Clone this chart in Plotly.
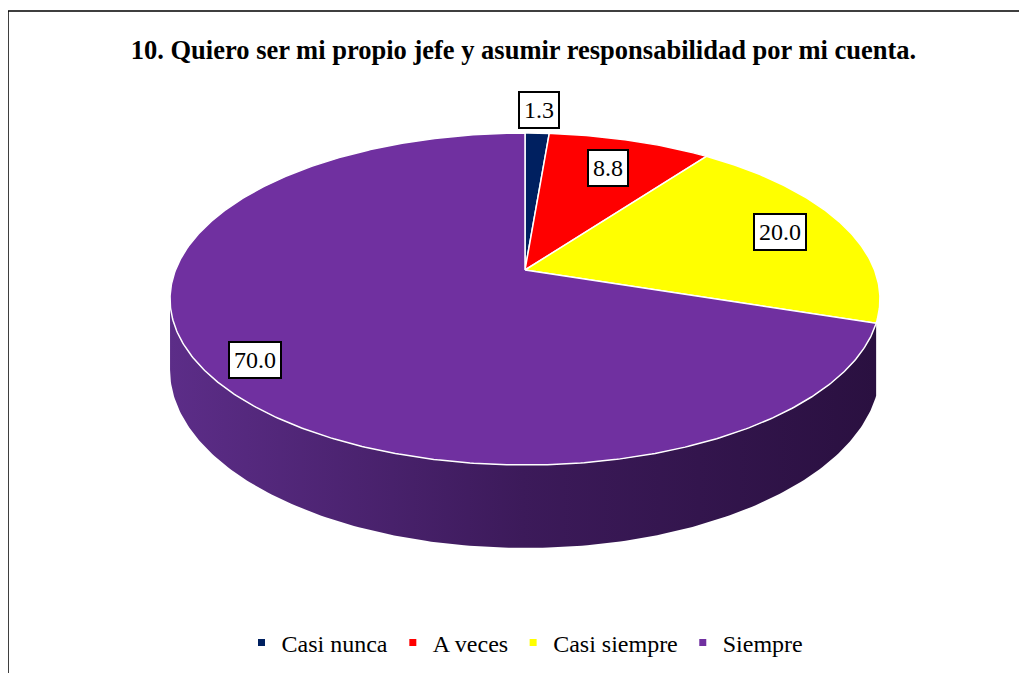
import numpy as np
import plotly.graph_objects as go

title = "10. Quiero ser mi propio jefe y asumir responsabilidad por mi cuenta."
categories = ["Casi nunca", "A veces", "Casi siempre", "Siempre"]
values = [1.3, 8.8, 20.0, 70.0]
labels = ["1.3", "8.8", "20.0", "70.0"]
colors = ["#002060", "#FF0000", "#FFFF00", "#7030A0"]
label_radius = [1.2, 0.76, 0.8, 0.87]

# page has an 8px body margin; figure coordinates are shifted accordingly
OFF = 8
W, H = 1027 - OFF, 673 - OFF
# perspective pie geometry (pixel space, page coords minus offset)
CX, CY = 525.0 - OFF, 270.0 - OFF
A, B, K = 160.9, 349.5, 0.1747
DEPTH = 68.5
FONT = "Liberation Serif"


def proj(r, theta_deg, drop=0.0):
    t = np.radians(theta_deg)
    u = r * np.sin(t)
    v = r * np.cos(t)
    d = 1 + K * v
    return CX + B * u / d, CY - A * v / d + drop / d


fig = go.Figure()

total = sum(values)
bounds = np.concatenate([[0], np.cumsum(values) / total * 360.0])

# side wall (front visible part; thin slivers are hidden by the rim)
sil = np.degrees(np.arccos(-K))
for i in range(len(values)):
    a0, a1 = max(bounds[i], sil), min(bounds[i + 1], 360 - sil)
    if a1 - a0 < 20:
        continue
    th = np.linspace(a0, a1, 200)
    xt, yt = proj(1.0, th)
    xb, yb = proj(1.0, th[::-1], DEPTH)
    xs = np.concatenate([xt, xb, [xt[0]]])
    ys = np.concatenate([yt, yb, [yt[0]]])
    fig.add_trace(go.Scatter(
        x=xs, y=ys, mode="lines", fill="toself", line=dict(width=0),
        fillgradient=dict(type="horizontal",
                          colorscale=[[0, "#5c2d88"], [0.5, "#3c1a5a"], [1, "#2a1040"]]),
        hoverinfo="skip", showlegend=False))

# top faces
for i in range(len(values)):
    th = np.linspace(bounds[i], bounds[i + 1], max(int((bounds[i + 1] - bounds[i]) * 2), 8))
    xe, ye = proj(1.0, th)
    xs = np.concatenate([[CX], xe, [CX]])
    ys = np.concatenate([[CY], ye, [CY]])
    fig.add_trace(go.Scatter(
        x=xs, y=ys, mode="lines", fill="toself", fillcolor=colors[i],
        line=dict(color="white", width=1.5), hoverinfo="skip", showlegend=False))

# legend entries
for i, c in enumerate(categories):
    fig.add_trace(go.Scatter(
        x=[None], y=[None], mode="markers", name=c,
        marker=dict(symbol="square", size=7, color=colors[i])))

# data labels
for i in range(len(values)):
    mid = (bounds[i] + bounds[i + 1]) / 2
    lx, ly = proj(label_radius[i], mid)
    fig.add_annotation(x=lx, y=ly, text=labels[i], showarrow=False,
                       font=dict(family=FONT, size=24, color="black"),
                       bgcolor="white", bordercolor="black", borderwidth=2,
                       borderpad=4)

fig.add_shape(type="rect", xref="paper", yref="paper",
              x0=0, x1=(1020 - OFF) / W, y0=-0.05, y1=1 - (11 - OFF) / H,
              line=dict(color="black", width=1.5))

fig.update_layout(
    width=W, height=H,
    margin=dict(l=0, r=0, t=0, b=0),
    paper_bgcolor="white", plot_bgcolor="white",
    title=dict(text="<b>" + title + "</b>", x=(523.5 - OFF) / W, xanchor="center",
               y=1 - (50 - OFF) / H, yanchor="middle",
               font=dict(family=FONT, size=26.5, color="black")),
    xaxis=dict(range=[0, W], visible=False, fixedrange=True),
    yaxis=dict(range=[H, 0], visible=False, fixedrange=True),
    showlegend=True,
    legend=dict(orientation="h", x=(525 - OFF) / W, xanchor="center",
                y=1 - (643 - OFF) / H, yanchor="middle",
                font=dict(family=FONT, size=24, color="black"),
                itemwidth=30, bgcolor="rgba(0,0,0,0)"),
)

fig.write_html("out.html")
